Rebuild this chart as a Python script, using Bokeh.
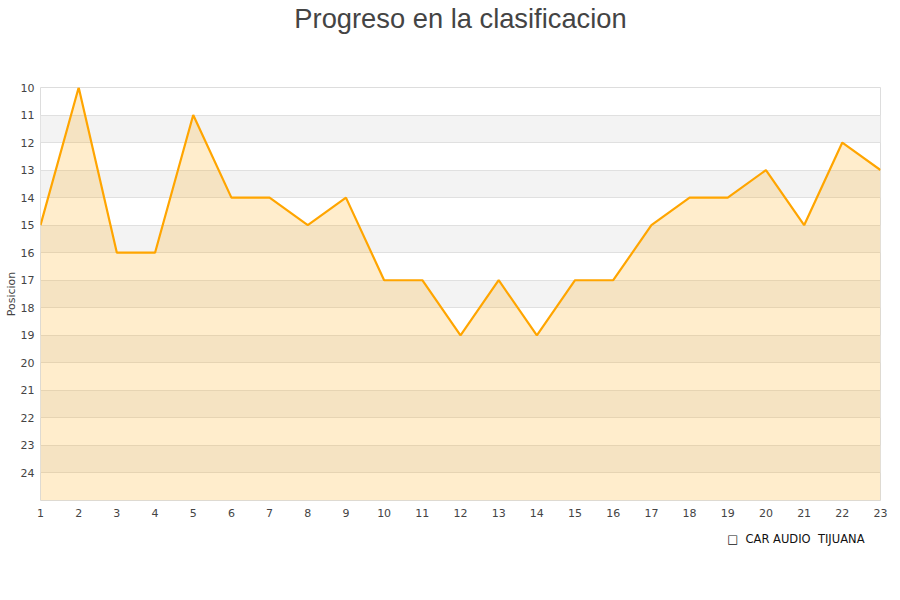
from bokeh.plotting import figure
from bokeh.models import Range1d, FixedTicker, Title, ColumnDataSource
from bokeh.embed import file_html
from bokeh.resources import INLINE

# jornadas y posicion del equipo
jornadas = list(range(1, 24))
posicion = [15, 10, 16, 16, 11, 14, 14, 15, 14, 17, 17, 19, 17, 19, 17, 17, 15, 14, 14, 13, 15, 12, 13]
equipo = "CAR AUDIO\u00a0\u00a0TIJUANA"
y_ticks = list(range(10, 25))
fondo = 25

src = ColumnDataSource(data=dict(x=jornadas, y=posicion, base=[fondo] * len(jornadas)))

p = figure(width=892, height=592, output_backend="svg", toolbar_location=None,
           x_range=Range1d(1, 23), y_range=Range1d(fondo, 10),
           min_border_left=40, min_border_right=12, min_border_top=86, min_border_bottom=92)

# titulo con un espacio vacio entre el y el grafico
p.title = None
p.add_layout(Title(text="\u00a0", text_font_size="46px", text_line_height=1.0, standoff=0), "above")
p.add_layout(Title(text="Progreso en la clasificacion", align="center", standoff=0,
                   text_font="Liberation Sans", text_font_size="27.3px", text_line_height=1.0,
                   text_font_style="normal", text_color="#444444"), "above")

p.outline_line_color = "#dddddd"
p.background_fill_color = "white"

area = p.varea(x="x", y1="y", y2="base", source=src, fill_color="#ffa500", fill_alpha=0.2)
p.line(x="x", y="y", source=src, line_color="#ffa500", line_width=2.2)

p.xaxis.ticker = FixedTicker(ticks=jornadas)
p.yaxis.ticker = FixedTicker(ticks=y_ticks)
for ax in (p.xaxis[0], p.yaxis[0]):
    ax.axis_line_color = None
    ax.major_tick_line_color = None
    ax.minor_tick_line_color = None
    ax.major_tick_out = 0
    ax.major_tick_in = 0
    ax.major_label_text_font = "DejaVu Sans"
    ax.major_label_text_font_size = "11px"
    ax.major_label_text_color = "#444444"
p.yaxis.major_label_standoff = 6
p.xaxis.major_label_standoff = 8
p.yaxis.axis_label = "Posicion"
p.yaxis.axis_label_text_font = "DejaVu Sans"
p.yaxis.axis_label_text_font_size = "11px"
p.yaxis.axis_label_text_font_style = "normal"
p.yaxis.axis_label_text_color = "#444444"
p.yaxis.axis_label_standoff = 0

p.xgrid.visible = False
p.ygrid.grid_line_color = "#e0e0e0"
p.ygrid.band_fill_color = "#f3f3f3"
p.ygrid.band_fill_alpha = 1.0

# leyenda como texto bajo el eje
leyenda = Title(text="\u25a1\u00a0\u00a0" + equipo, align="right", offset=16, standoff=20,
                text_font="DejaVu Sans", text_font_size="11.5px",
                text_font_style="normal", text_color="#111111")
p.add_layout(leyenda, "below")

open("out.html", "w").write(file_html(p, INLINE))
